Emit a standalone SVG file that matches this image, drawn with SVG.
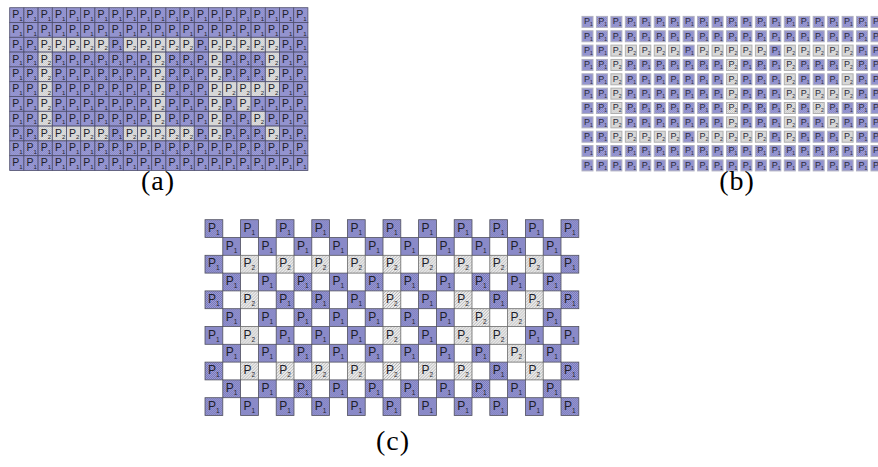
<svg xmlns="http://www.w3.org/2000/svg" width="878" height="467" viewBox="0 0 878 467">
<style>
.lbl{font-family:"Liberation Serif","Times New Roman",serif;font-size:28px;letter-spacing:1px;fill:#000;text-anchor:middle}
.ta{font-family:"Liberation Sans",Arial,sans-serif;font-size:10.5px;fill:#1e1e2a}
.sa{font-size:6px}
.tb{font-family:"Liberation Sans",Arial,sans-serif;font-size:9px;fill:#2a2a38}
.sb{font-size:5px}
.tc{font-family:"Liberation Sans",Arial,sans-serif;font-size:12px;fill:#1e1e2a}
.sc{font-size:6.5px}
</style>
<defs>
<pattern id="pa1" width="2" height="2" patternUnits="userSpaceOnUse"><rect width="2" height="2" fill="#a2a2da"/><rect width="1" height="1" fill="#8484c4"/><rect x="1" y="1" width="1" height="1" fill="#8484c4"/></pattern>
<pattern id="pa2" width="2" height="2" patternUnits="userSpaceOnUse"><rect width="2" height="2" fill="#e6e6e6"/><rect width="1" height="1" fill="#c8c8c8"/><rect x="1" y="1" width="1" height="1" fill="#c8c8c8"/></pattern>
<pattern id="pc1" width="2" height="2" patternUnits="userSpaceOnUse"><rect width="2" height="2" fill="#a0a0da"/><rect width="1" height="1" fill="#7474b6"/><rect x="1" y="1" width="1" height="1" fill="#7474b6"/></pattern>
<pattern id="pc2" width="3" height="3" patternUnits="userSpaceOnUse"><rect width="3" height="3" fill="#eeeeee"/><path d="M-1,1 L1,-1 M0,3 L3,0 M2,4 L4,2" stroke="#a4a4a4" stroke-width="0.8"/></pattern>
<g id="a1"><rect width="14.2" height="14.8" fill="url(#pa1)" stroke="#4e4e6c" stroke-width="0.8"/><text class="ta" x="2.6" y="10.6">P<tspan class="sa" dy="2.4">1</tspan></text></g>
<g id="a2"><rect width="14.2" height="14.8" fill="url(#pa2)" stroke="#4e4e6c" stroke-width="0.8"/><text class="ta" x="2.6" y="10.6">P<tspan class="sa" dy="2.4">2</tspan></text></g>
<g id="b1"><rect x="0.5" y="0.5" width="11" height="11" fill="url(#pa1)" stroke="#b0b0c0" stroke-width="1"/><text class="tb" x="2.4" y="8.4">P<tspan class="sb" dy="2">1</tspan></text></g>
<g id="b2"><rect x="0.5" y="0.5" width="11" height="11" fill="url(#pa2)" stroke="#b0b0b0" stroke-width="1"/><text class="tb" x="2.4" y="8.4">P<tspan class="sb" dy="2">2</tspan></text></g>
<g id="c1"><rect width="17.8" height="17.8" fill="url(#pc1)" stroke="#50505e" stroke-width="0.8"/><text class="tc" x="3" y="12">P<tspan class="sc" dy="3">1</tspan></text></g>
<g id="c2"><rect width="17.8" height="17.8" fill="url(#pc2)" stroke="#6a6a6a" stroke-width="0.8"/><text class="tc" x="3" y="12">P<tspan class="sc" dy="3">2</tspan></text></g>

<g id="ra0"><use href="#a1"/><use href="#a1" x="14.2"/><use href="#a1" x="28.4"/><use href="#a1" x="42.6"/><use href="#a1" x="56.8"/><use href="#a1" x="71"/><use href="#a1" x="85.2"/><use href="#a1" x="99.4"/><use href="#a1" x="113.6"/><use href="#a1" x="127.8"/><use href="#a1" x="142"/><use href="#a1" x="156.2"/><use href="#a1" x="170.4"/><use href="#a1" x="184.6"/><use href="#a1" x="198.8"/><use href="#a1" x="213"/><use href="#a1" x="227.2"/><use href="#a1" x="241.4"/><use href="#a1" x="255.6"/><use href="#a1" x="269.8"/><use href="#a1" x="284"/></g>
<g id="ra2"><use href="#a1"/><use href="#a1" x="14.2"/><use href="#a2" x="28.4"/><use href="#a2" x="42.6"/><use href="#a2" x="56.8"/><use href="#a2" x="71"/><use href="#a2" x="85.2"/><use href="#a1" x="99.4"/><use href="#a2" x="113.6"/><use href="#a2" x="127.8"/><use href="#a2" x="142"/><use href="#a2" x="156.2"/><use href="#a2" x="170.4"/><use href="#a1" x="184.6"/><use href="#a2" x="198.8"/><use href="#a2" x="213"/><use href="#a2" x="227.2"/><use href="#a2" x="241.4"/><use href="#a2" x="255.6"/><use href="#a1" x="269.8"/><use href="#a1" x="284"/></g>
<g id="ra3"><use href="#a1"/><use href="#a1" x="14.2"/><use href="#a2" x="28.4"/><use href="#a1" x="42.6"/><use href="#a1" x="56.8"/><use href="#a1" x="71"/><use href="#a1" x="85.2"/><use href="#a1" x="99.4"/><use href="#a1" x="113.6"/><use href="#a1" x="127.8"/><use href="#a2" x="142"/><use href="#a1" x="156.2"/><use href="#a1" x="170.4"/><use href="#a1" x="184.6"/><use href="#a2" x="198.8"/><use href="#a1" x="213"/><use href="#a1" x="227.2"/><use href="#a1" x="241.4"/><use href="#a2" x="255.6"/><use href="#a1" x="269.8"/><use href="#a1" x="284"/></g>
<g id="ra5"><use href="#a1"/><use href="#a1" x="14.2"/><use href="#a2" x="28.4"/><use href="#a1" x="42.6"/><use href="#a1" x="56.8"/><use href="#a1" x="71"/><use href="#a1" x="85.2"/><use href="#a1" x="99.4"/><use href="#a1" x="113.6"/><use href="#a1" x="127.8"/><use href="#a2" x="142"/><use href="#a1" x="156.2"/><use href="#a1" x="170.4"/><use href="#a1" x="184.6"/><use href="#a2" x="198.8"/><use href="#a2" x="213"/><use href="#a2" x="227.2"/><use href="#a2" x="241.4"/><use href="#a2" x="255.6"/><use href="#a1" x="269.8"/><use href="#a1" x="284"/></g>
<g id="ra6"><use href="#a1"/><use href="#a1" x="14.2"/><use href="#a2" x="28.4"/><use href="#a1" x="42.6"/><use href="#a1" x="56.8"/><use href="#a1" x="71"/><use href="#a1" x="85.2"/><use href="#a1" x="99.4"/><use href="#a1" x="113.6"/><use href="#a1" x="127.8"/><use href="#a2" x="142"/><use href="#a1" x="156.2"/><use href="#a1" x="170.4"/><use href="#a1" x="184.6"/><use href="#a2" x="198.8"/><use href="#a1" x="213"/><use href="#a2" x="227.2"/><use href="#a1" x="241.4"/><use href="#a1" x="255.6"/><use href="#a1" x="269.8"/><use href="#a1" x="284"/></g>
<g id="ra7"><use href="#a1"/><use href="#a1" x="14.2"/><use href="#a2" x="28.4"/><use href="#a1" x="42.6"/><use href="#a1" x="56.8"/><use href="#a1" x="71"/><use href="#a1" x="85.2"/><use href="#a1" x="99.4"/><use href="#a1" x="113.6"/><use href="#a1" x="127.8"/><use href="#a2" x="142"/><use href="#a1" x="156.2"/><use href="#a1" x="170.4"/><use href="#a1" x="184.6"/><use href="#a2" x="198.8"/><use href="#a1" x="213"/><use href="#a1" x="227.2"/><use href="#a2" x="241.4"/><use href="#a1" x="255.6"/><use href="#a1" x="269.8"/><use href="#a1" x="284"/></g>
<g id="ra8"><use href="#a1"/><use href="#a1" x="14.2"/><use href="#a2" x="28.4"/><use href="#a2" x="42.6"/><use href="#a2" x="56.8"/><use href="#a2" x="71"/><use href="#a2" x="85.2"/><use href="#a1" x="99.4"/><use href="#a2" x="113.6"/><use href="#a2" x="127.8"/><use href="#a2" x="142"/><use href="#a2" x="156.2"/><use href="#a2" x="170.4"/><use href="#a1" x="184.6"/><use href="#a2" x="198.8"/><use href="#a1" x="213"/><use href="#a1" x="227.2"/><use href="#a1" x="241.4"/><use href="#a2" x="255.6"/><use href="#a1" x="269.8"/><use href="#a1" x="284"/></g>

<g id="rb0"><use href="#b1"/><use href="#b1" x="14.45"/><use href="#b1" x="28.9"/><use href="#b1" x="43.35"/><use href="#b1" x="57.8"/><use href="#b1" x="72.25"/><use href="#b1" x="86.7"/><use href="#b1" x="101.15"/><use href="#b1" x="115.6"/><use href="#b1" x="130.05"/><use href="#b1" x="144.5"/><use href="#b1" x="158.95"/><use href="#b1" x="173.4"/><use href="#b1" x="187.85"/><use href="#b1" x="202.3"/><use href="#b1" x="216.75"/><use href="#b1" x="231.2"/><use href="#b1" x="245.65"/><use href="#b1" x="260.1"/><use href="#b1" x="274.55"/><use href="#b1" x="289"/></g>
<g id="rb2"><use href="#b1"/><use href="#b1" x="14.45"/><use href="#b2" x="28.9"/><use href="#b2" x="43.35"/><use href="#b2" x="57.8"/><use href="#b2" x="72.25"/><use href="#b2" x="86.7"/><use href="#b1" x="101.15"/><use href="#b2" x="115.6"/><use href="#b2" x="130.05"/><use href="#b2" x="144.5"/><use href="#b2" x="158.95"/><use href="#b2" x="173.4"/><use href="#b1" x="187.85"/><use href="#b2" x="202.3"/><use href="#b2" x="216.75"/><use href="#b2" x="231.2"/><use href="#b2" x="245.65"/><use href="#b2" x="260.1"/><use href="#b1" x="274.55"/><use href="#b1" x="289"/></g>
<g id="rb3"><use href="#b1"/><use href="#b1" x="14.45"/><use href="#b2" x="28.9"/><use href="#b1" x="43.35"/><use href="#b1" x="57.8"/><use href="#b1" x="72.25"/><use href="#b1" x="86.7"/><use href="#b1" x="101.15"/><use href="#b1" x="115.6"/><use href="#b1" x="130.05"/><use href="#b2" x="144.5"/><use href="#b1" x="158.95"/><use href="#b1" x="173.4"/><use href="#b1" x="187.85"/><use href="#b2" x="202.3"/><use href="#b1" x="216.75"/><use href="#b1" x="231.2"/><use href="#b1" x="245.65"/><use href="#b2" x="260.1"/><use href="#b1" x="274.55"/><use href="#b1" x="289"/></g>
<g id="rb5"><use href="#b1"/><use href="#b1" x="14.45"/><use href="#b2" x="28.9"/><use href="#b1" x="43.35"/><use href="#b1" x="57.8"/><use href="#b1" x="72.25"/><use href="#b1" x="86.7"/><use href="#b1" x="101.15"/><use href="#b1" x="115.6"/><use href="#b1" x="130.05"/><use href="#b2" x="144.5"/><use href="#b1" x="158.95"/><use href="#b1" x="173.4"/><use href="#b1" x="187.85"/><use href="#b2" x="202.3"/><use href="#b2" x="216.75"/><use href="#b2" x="231.2"/><use href="#b2" x="245.65"/><use href="#b2" x="260.1"/><use href="#b1" x="274.55"/><use href="#b1" x="289"/></g>
<g id="rb6"><use href="#b1"/><use href="#b1" x="14.45"/><use href="#b2" x="28.9"/><use href="#b1" x="43.35"/><use href="#b1" x="57.8"/><use href="#b1" x="72.25"/><use href="#b1" x="86.7"/><use href="#b1" x="101.15"/><use href="#b1" x="115.6"/><use href="#b1" x="130.05"/><use href="#b2" x="144.5"/><use href="#b1" x="158.95"/><use href="#b1" x="173.4"/><use href="#b1" x="187.85"/><use href="#b2" x="202.3"/><use href="#b1" x="216.75"/><use href="#b2" x="231.2"/><use href="#b1" x="245.65"/><use href="#b1" x="260.1"/><use href="#b1" x="274.55"/><use href="#b1" x="289"/></g>
<g id="rb7"><use href="#b1"/><use href="#b1" x="14.45"/><use href="#b2" x="28.9"/><use href="#b1" x="43.35"/><use href="#b1" x="57.8"/><use href="#b1" x="72.25"/><use href="#b1" x="86.7"/><use href="#b1" x="101.15"/><use href="#b1" x="115.6"/><use href="#b1" x="130.05"/><use href="#b2" x="144.5"/><use href="#b1" x="158.95"/><use href="#b1" x="173.4"/><use href="#b1" x="187.85"/><use href="#b2" x="202.3"/><use href="#b1" x="216.75"/><use href="#b1" x="231.2"/><use href="#b2" x="245.65"/><use href="#b1" x="260.1"/><use href="#b1" x="274.55"/><use href="#b1" x="289"/></g>
<g id="rb8"><use href="#b1"/><use href="#b1" x="14.45"/><use href="#b2" x="28.9"/><use href="#b2" x="43.35"/><use href="#b2" x="57.8"/><use href="#b2" x="72.25"/><use href="#b2" x="86.7"/><use href="#b1" x="101.15"/><use href="#b2" x="115.6"/><use href="#b2" x="130.05"/><use href="#b2" x="144.5"/><use href="#b2" x="158.95"/><use href="#b2" x="173.4"/><use href="#b1" x="187.85"/><use href="#b2" x="202.3"/><use href="#b1" x="216.75"/><use href="#b1" x="231.2"/><use href="#b1" x="245.65"/><use href="#b2" x="260.1"/><use href="#b1" x="274.55"/><use href="#b1" x="289"/></g>

<g id="rce0"><use href="#c1"/><use href="#c1" x="35.6"/><use href="#c1" x="71.2"/><use href="#c1" x="106.8"/><use href="#c1" x="142.4"/><use href="#c1" x="178"/><use href="#c1" x="213.6"/><use href="#c1" x="249.2"/><use href="#c1" x="284.8"/><use href="#c1" x="320.4"/><use href="#c1" x="356"/></g>
<g id="rco0"><use href="#c1" x="17.8"/><use href="#c1" x="53.4"/><use href="#c1" x="89"/><use href="#c1" x="124.6"/><use href="#c1" x="160.2"/><use href="#c1" x="195.8"/><use href="#c1" x="231.4"/><use href="#c1" x="267"/><use href="#c1" x="302.6"/><use href="#c1" x="338.2"/></g>
<g id="rce2"><use href="#c1"/><use href="#c2" x="35.6"/><use href="#c2" x="71.2"/><use href="#c2" x="106.8"/><use href="#c2" x="142.4"/><use href="#c2" x="178"/><use href="#c2" x="213.6"/><use href="#c2" x="249.2"/><use href="#c2" x="284.8"/><use href="#c2" x="320.4"/><use href="#c1" x="356"/></g>
<g id="rce4"><use href="#c1"/><use href="#c2" x="35.6"/><use href="#c1" x="71.2"/><use href="#c1" x="106.8"/><use href="#c1" x="142.4"/><use href="#c2" x="178"/><use href="#c1" x="213.6"/><use href="#c2" x="249.2"/><use href="#c1" x="284.8"/><use href="#c2" x="320.4"/><use href="#c1" x="356"/></g>
<g id="rco5"><use href="#c1" x="17.8"/><use href="#c1" x="53.4"/><use href="#c1" x="89"/><use href="#c1" x="124.6"/><use href="#c1" x="160.2"/><use href="#c1" x="195.8"/><use href="#c1" x="231.4"/><use href="#c2" x="267"/><use href="#c2" x="302.6"/><use href="#c1" x="338.2"/></g>
<g id="rce6"><use href="#c1"/><use href="#c2" x="35.6"/><use href="#c1" x="71.2"/><use href="#c1" x="106.8"/><use href="#c1" x="142.4"/><use href="#c2" x="178"/><use href="#c1" x="213.6"/><use href="#c2" x="249.2"/><use href="#c2" x="284.8"/><use href="#c1" x="320.4"/><use href="#c1" x="356"/></g>
<g id="rco7"><use href="#c1" x="17.8"/><use href="#c1" x="53.4"/><use href="#c1" x="89"/><use href="#c1" x="124.6"/><use href="#c1" x="160.2"/><use href="#c1" x="195.8"/><use href="#c1" x="231.4"/><use href="#c1" x="267"/><use href="#c2" x="302.6"/><use href="#c1" x="338.2"/></g>
<g id="rce8"><use href="#c1"/><use href="#c2" x="35.6"/><use href="#c2" x="71.2"/><use href="#c2" x="106.8"/><use href="#c2" x="142.4"/><use href="#c2" x="178"/><use href="#c2" x="213.6"/><use href="#c2" x="249.2"/><use href="#c1" x="284.8"/><use href="#c2" x="320.4"/><use href="#c1" x="356"/></g>
</defs>

<rect width="878" height="467" fill="#ffffff"/>

<g id="panel-a" transform="translate(9.7,7.7)">
<use href="#ra0"/>
<use href="#ra0" y="14.8"/>
<use href="#ra2" y="29.6"/>
<use href="#ra3" y="44.4"/>
<use href="#ra3" y="59.2"/>
<use href="#ra5" y="74"/>
<use href="#ra6" y="88.8"/>
<use href="#ra7" y="103.6"/>
<use href="#ra8" y="118.4"/>
<use href="#ra0" y="133.2"/>
<use href="#ra0" y="148"/>
</g>

<g id="panel-b" transform="translate(581.5,15.9)">
<use href="#rb0"/>
<use href="#rb0" y="14.35"/>
<use href="#rb2" y="28.7"/>
<use href="#rb3" y="43.05"/>
<use href="#rb3" y="57.4"/>
<use href="#rb5" y="71.75"/>
<use href="#rb6" y="86.1"/>
<use href="#rb7" y="100.45"/>
<use href="#rb8" y="114.8"/>
<use href="#rb0" y="129.15"/>
<use href="#rb0" y="143.5"/>
</g>

<g id="panel-c" transform="translate(205,219.7)">
<use href="#rce0"/>
<use href="#rco0" y="17.8"/>
<use href="#rce2" y="35.6"/>
<use href="#rco0" y="53.4"/>
<use href="#rce4" y="71.2"/>
<use href="#rco5" y="89"/>
<use href="#rce6" y="106.8"/>
<use href="#rco7" y="124.6"/>
<use href="#rce8" y="142.4"/>
<use href="#rco0" y="160.2"/>
<use href="#rce0" y="178"/>
</g>

<g id="captions">
<text class="lbl" x="158" y="190">(a)</text>
<text class="lbl" x="737" y="190">(b)</text>
<text class="lbl" x="393" y="450">(c)</text>
</g>
</svg>
